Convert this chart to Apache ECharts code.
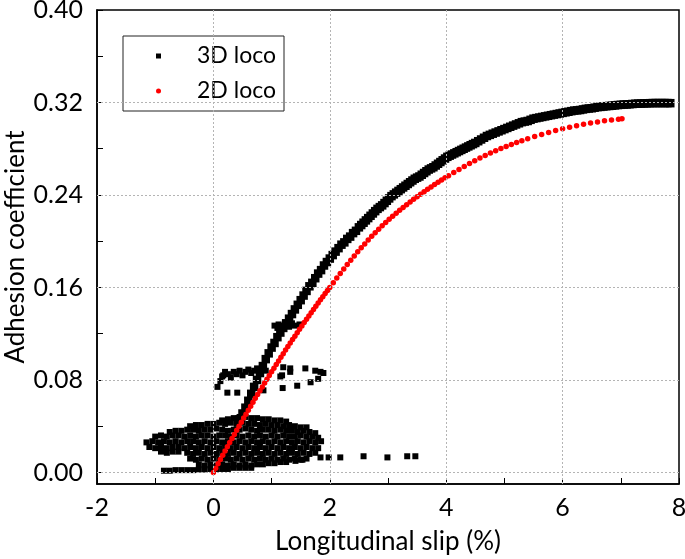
<!DOCTYPE html>
<html><head><meta charset="utf-8">
<script src="https://cdn.jsdelivr.net/npm/echarts@6/dist/echarts.min.js"></script>
<style>html,body{margin:0;padding:0;background:#fff}#c{width:685px;height:559px}</style>
</head><body><div id="c"></div>
<script>
// ---- axis ticks / labels ----
const xTicks = [-2, 0, 2, 4, 6, 8];
const yLabels = [0, 0.08, 0.16, 0.24, 0.32, 0.40];
const yTicks = [0, 0.04, 0.08, 0.12, 0.16, 0.20, 0.24, 0.28, 0.32, 0.36, 0.40];
const gridX = [0, 2, 4, 6];
const gridY = [0, 0.08, 0.16, 0.24, 0.32];

// ---- 3D loco: main adhesion curve ----
const curve3D = [
[0.45,0.046],[0.50,0.051],[0.55,0.056],[0.60,0.062],[0.65,0.068],[0.70,0.074],[0.75,0.080],[0.80,0.086],
[0.85,0.092],[0.90,0.098],[0.95,0.103],[1.00,0.108],[1.05,0.112],[1.10,0.117],[1.15,0.121],[1.20,0.125],
[1.25,0.129],[1.30,0.133],[1.35,0.137],[1.40,0.141],[1.45,0.145],[1.50,0.149],[1.55,0.153],[1.60,0.157],
[1.65,0.161],[1.70,0.164],[1.75,0.168],[1.80,0.172],[1.85,0.175],[1.90,0.179],[1.95,0.182],[2.00,0.185],
[2.05,0.188],[2.10,0.191],[2.15,0.194],[2.20,0.197],[2.25,0.199],[2.30,0.202],[2.35,0.204],[2.40,0.207],
[2.45,0.209],[2.50,0.212],[2.58,0.216],[2.66,0.220],[2.74,0.224],[2.82,0.228],[2.90,0.231],[2.98,0.235],
[3.06,0.239],[3.14,0.242],[3.22,0.245],[3.30,0.248],[3.38,0.251],[3.46,0.254],[3.54,0.256],[3.62,0.259],
[3.70,0.262],[3.78,0.264],[3.86,0.267],[3.94,0.270],[4.02,0.273],[4.10,0.275],[4.18,0.277],[4.26,0.279],
[4.34,0.281],[4.42,0.283],[4.50,0.285],[4.60,0.288],[4.70,0.291],[4.80,0.293],[4.90,0.295],[5.00,0.297],
[5.10,0.299],[5.20,0.301],[5.30,0.303],[5.40,0.304],[5.50,0.306],[5.60,0.307],[5.70,0.308],[5.80,0.309],
[5.90,0.310],[6.00,0.311],[6.10,0.312],[6.20,0.313],[6.30,0.3135],[6.40,0.3145],[6.50,0.315],[6.60,0.316],
[6.70,0.3165],[6.80,0.317],[6.90,0.3175],[7.00,0.318],[7.10,0.3183],[7.20,0.3187],[7.30,0.319],[7.40,0.3192],
[7.50,0.3194],[7.60,0.3195],[7.70,0.3195],[7.80,0.3195],[7.85,0.3194]
];
// further samples read along the same band (upper part, where it is densest)
const curve3Db = [
[2.54,0.214],[2.62,0.218],[2.70,0.222],[2.78,0.226],[2.86,0.2295],[2.94,0.233],[3.02,0.237],[3.10,0.2405],
[3.18,0.2435],[3.26,0.2465],[3.34,0.2495],[3.42,0.2525],[3.50,0.255],[3.58,0.2575],[3.66,0.2605],[3.74,0.263],
[3.82,0.2655],[3.90,0.2685],[3.98,0.2715],[4.06,0.274],[4.14,0.276],[4.22,0.278],[4.30,0.280],[4.38,0.282],
[4.46,0.284],[4.55,0.2865],[4.65,0.2895],[4.75,0.292],[4.85,0.294],[4.95,0.296],[5.05,0.298],[5.15,0.300],
[5.25,0.302],[5.35,0.3035],[5.45,0.305],[5.55,0.3065],[5.65,0.3075],[5.75,0.3085],[5.85,0.3095],[5.95,0.3105],
[6.05,0.3115],[6.15,0.3125],[6.25,0.3132],[6.35,0.314],[6.45,0.3148],[6.55,0.3155],[6.65,0.3162],[6.75,0.3168],
[6.85,0.3172],[6.95,0.3178],[7.05,0.3182],[7.15,0.3185],[7.25,0.3189],[7.35,0.3191],[7.45,0.3193],[7.55,0.3195],
[7.65,0.3195],[7.75,0.3195]
];

// ---- 3D loco: oscillation cloud near the origin ----
const cloud3D = [
[0.15,0.045],[0.25,0.046],[0.35,0.047],[0.45,0.048],[0.55,0.048],[0.65,0.047],[0.75,0.047],[0.85,0.046],[0.95,0.046],[1.05,0.045],[1.15,0.045],[1.25,0.044],
[-0.4,0.040],[-0.3,0.041],[-0.2,0.041],[-0.1,0.042],[0.0,0.042],[0.1,0.043],[0.2,0.042],[0.3,0.043],[0.4,0.042],[0.5,0.043],[0.6,0.042],[0.7,0.042],[0.8,0.041],[0.9,0.042],[1.0,0.041],[1.1,0.041],[1.2,0.040],[1.3,0.041],[1.4,0.040],[1.5,0.039],[1.6,0.039],
[-0.75,0.035],[-0.65,0.036],[-0.55,0.036],[-0.45,0.037],[-0.35,0.037],[-0.25,0.036],[-0.15,0.037],[-0.05,0.037],[0.05,0.038],[0.15,0.037],[0.25,0.036],[0.35,0.037],[0.45,0.037],[0.55,0.038],[0.65,0.037],[0.75,0.036],[0.85,0.037],[0.95,0.037],[1.05,0.036],[1.15,0.037],[1.25,0.036],[1.35,0.036],[1.45,0.035],[1.55,0.036],[1.65,0.035],[1.75,0.034],
[-1.0,0.031],[-0.9,0.032],[-0.8,0.031],[-0.7,0.032],[-0.6,0.032],[-0.5,0.031],[-0.4,0.032],[-0.3,0.031],[-0.2,0.032],[-0.1,0.032],[0.0,0.031],[0.1,0.032],[0.2,0.032],[0.3,0.031],[0.4,0.032],[0.5,0.031],[0.6,0.032],[0.7,0.031],[0.8,0.032],[0.9,0.031],[1.0,0.032],[1.1,0.031],[1.2,0.032],[1.3,0.031],[1.4,0.031],[1.5,0.032],[1.6,0.031],[1.7,0.031],[1.8,0.030],
[-1.15,0.026],[-1.05,0.027],[-0.95,0.026],[-0.85,0.027],[-0.75,0.026],[-0.65,0.027],[-0.55,0.026],[-0.45,0.027],[-0.35,0.027],[-0.25,0.026],[-0.15,0.027],[-0.05,0.026],[0.05,0.027],[0.15,0.026],[0.25,0.027],[0.35,0.026],[0.45,0.027],[0.55,0.026],[0.65,0.027],[0.75,0.026],[0.85,0.027],[0.95,0.026],[1.05,0.027],[1.15,0.026],[1.25,0.027],[1.35,0.026],[1.45,0.027],[1.55,0.026],[1.65,0.027],[1.75,0.026],[1.85,0.027],
[-1.1,0.022],[-1.0,0.021],[-0.9,0.022],[-0.8,0.021],[-0.7,0.022],[-0.6,0.022],[-0.5,0.021],[-0.4,0.022],[-0.3,0.021],[-0.2,0.022],[-0.1,0.021],[0.0,0.022],[0.1,0.021],[0.2,0.022],[0.3,0.021],[0.4,0.022],[0.5,0.021],[0.6,0.022],[0.7,0.021],[0.8,0.022],[0.9,0.021],[1.0,0.022],[1.1,0.021],[1.2,0.022],[1.3,0.021],[1.4,0.022],[1.5,0.021],[1.6,0.022],[1.7,0.021],[1.8,0.021],
[-0.9,0.018],[-0.8,0.017],[-0.7,0.018],[-0.6,0.018],[-0.45,0.017],[-0.35,0.016],[-0.25,0.017],[-0.15,0.016],[-0.05,0.017],[0.05,0.016],[0.15,0.017],[0.25,0.016],[0.35,0.017],[0.45,0.016],[0.55,0.017],[0.65,0.016],[0.75,0.017],[0.85,0.016],[0.95,0.017],[1.05,0.016],[1.15,0.017],[1.25,0.016],[1.35,0.017],[1.45,0.016],[1.55,0.017],[1.65,0.016],[1.75,0.017],
[-0.4,0.012],[-0.3,0.011],[-0.2,0.012],[-0.1,0.011],[0.0,0.012],[0.1,0.011],[0.2,0.012],[0.3,0.011],[0.4,0.012],[0.5,0.011],[0.6,0.012],[0.7,0.011],[0.8,0.012],[0.9,0.011],[1.0,0.012],[1.1,0.011],[1.2,0.012],[1.3,0.011],[1.4,0.012],[1.5,0.011],[1.6,0.012],
[-0.25,0.007],[-0.15,0.006],[-0.05,0.007],[0.05,0.006],[0.15,0.007],[0.25,0.006],[0.35,0.007],[0.45,0.006],[0.55,0.007],[0.65,0.006],[0.75,0.007],[0.85,0.007],[0.95,0.008],[1.05,0.008],[1.15,0.009],[1.25,0.009],
[0.05,0.003],[0.15,0.003],[0.25,0.003],[0.35,0.004],[0.45,0.004],[0.55,0.004],[0.65,0.004],
[-0.85,0.0015],[-0.75,0.0015],[-0.65,0.002],[-0.55,0.002],[-0.45,0.002],[-0.35,0.002],[-0.25,0.0025],[-0.15,0.0025],[-0.05,0.003]
];

// ---- 3D loco: trailing points and upper loops ----
const trail3D = [
[1.41,0.010],[1.53,0.011],[1.84,0.013],[1.98,0.013],[2.18,0.013],[2.58,0.014],[2.99,0.013],[3.33,0.014],[3.47,0.014],
[0.15,0.083],[0.2,0.087],[0.25,0.085],[0.3,0.082],[0.35,0.087],[0.4,0.085],[0.45,0.088],[0.5,0.084],[0.55,0.087],
[0.6,0.089],[0.65,0.086],[0.7,0.088],[0.75,0.090],[0.8,0.087],[0.85,0.089],[0.9,0.088],
[0.17,0.084],[0.07,0.074],[0.12,0.079],[0.24,0.069],[0.41,0.069],[0.86,0.071],[1.19,0.073],[1.44,0.075],[1.67,0.078],
[1.80,0.081],[1.89,0.086],[1.84,0.087],[1.75,0.088],[1.58,0.090],[1.32,0.090],[1.20,0.091],[1.15,0.083],[1.18,0.084],[1.32,0.087],
[1.05,0.127],[1.12,0.128],[1.20,0.127],[1.30,0.126],[1.40,0.127],[1.48,0.128],[1.10,0.125],[1.35,0.129]
];

// ---- 2D loco ----
const curve2D = [
[0.00,0.0000],[0.04,0.0037],[0.08,0.0075],[0.12,0.0112],[0.16,0.0149],[0.20,0.0185],[0.24,0.0222],[0.28,0.0258],
[0.32,0.0294],[0.36,0.0329],[0.40,0.0365],[0.44,0.0400],[0.48,0.0435],[0.52,0.0470],[0.56,0.0504],[0.60,0.0539],
[0.64,0.0573],[0.68,0.0607],[0.72,0.0641],[0.76,0.0674],[0.80,0.0707],[0.84,0.0740],[0.88,0.0773],[0.92,0.0806],
[0.96,0.0838],[1.00,0.0870],[1.04,0.0902],[1.08,0.0934],[1.12,0.0965],[1.16,0.0996],[1.20,0.1027],[1.24,0.1058],
[1.28,0.1089],[1.32,0.1119],[1.36,0.1149],[1.40,0.1179],[1.44,0.1208],[1.48,0.1238],[1.52,0.1267],[1.56,0.1296],
[1.60,0.1325],[1.64,0.1353],[1.68,0.1382],[1.72,0.1410],[1.76,0.1438],[1.80,0.1465],[1.84,0.1493],[1.88,0.1520],
[1.92,0.1547],[1.96,0.1574],[2.00,0.1600],[2.06,0.1641],[2.12,0.1681],[2.18,0.1721],[2.24,0.1760],[2.30,0.1798],
[2.36,0.1836],[2.42,0.1873],[2.48,0.1909],[2.54,0.1944],[2.60,0.1977],[2.66,0.2010],[2.72,0.2042],[2.78,0.2073],
[2.84,0.2103],[2.90,0.2133],[2.96,0.2161],[3.02,0.2189],[3.08,0.2216],[3.14,0.2242],[3.20,0.2267],[3.26,0.2292],
[3.32,0.2316],[3.38,0.2340],[3.44,0.2363],[3.50,0.2385],[3.56,0.2407],[3.62,0.2428],[3.68,0.2449],[3.74,0.2470],
[3.80,0.2490],[3.86,0.2510],[3.92,0.2529],[3.98,0.2548],[4.04,0.2566],[4.13,0.2594],[4.22,0.2621],[4.31,0.2647],
[4.40,0.2672],[4.49,0.2696],[4.58,0.2719],[4.67,0.2741],[4.76,0.2762],[4.85,0.2783],[4.94,0.2802],[5.03,0.2820],
[5.12,0.2837],[5.21,0.2854],[5.30,0.2870],[5.40,0.2887],[5.52,0.2906],[5.64,0.2924],[5.76,0.2941],[5.88,0.2957],
[6.00,0.2972],[6.12,0.2986],[6.24,0.2999],[6.36,0.3011],[6.48,0.3022],[6.60,0.3032],[6.72,0.3041],[6.84,0.3049],
[6.96,0.3056],[7.02,0.3059]
];

const FONT = 'Lato';
const chart = echarts.init(document.getElementById('c'), null, {renderer: 'canvas'});
chart.setOption({
  animation: false,
  backgroundColor: '#fff',
  textStyle: {fontFamily: FONT, color: '#000'},
  grid: {left: 97, right: 6, top: 10, bottom: 75, outerBoundsMode: 'none', containLabel: false,
    show: true, borderColor: '#000', borderWidth: 1.5, backgroundColor: 'transparent'},
  legend: {
    data: ['3D loco', '2D loco'],
    orient: 'vertical', left: 123, top: 36,
    backgroundColor: '#fff', borderColor: '#222', borderWidth: 1,
    padding: [8, 8, 8, 33],
    itemWidth: 5, itemHeight: 5, itemGap: 11,
    textStyle: {fontFamily: FONT, fontSize: 23, color: '#000', lineHeight: 24, padding: [0, 0, 0, 31]}
  },
  xAxis: {
    type: 'value', min: -2, max: 8, interval: 2,
    name: 'Longitudinal slip (%)', nameLocation: 'middle', nameGap: 45, nameMoveOverlap: false,
    nameTextStyle: {fontFamily: FONT, fontSize: 26, color: '#000'},
    axisLine: {show: true, onZero: false, lineStyle: {color: '#000', width: 1.5}},
    axisTick: {show: true, inside: true, length: 6, lineStyle: {color: '#000', width: 1}},
    minorTick: {show: true, splitNumber: 2, length: 6, lineStyle: {color: '#000', width: 1}},
    axisLabel: {fontFamily: FONT, fontSize: 25, color: '#000', margin: 11,
      customValues: xTicks},
    splitLine: {show: false}
  },
  yAxis: {
    type: 'value', min: -0.01, max: 0.40,
    name: 'Adhesion coefficient', nameLocation: 'middle', nameGap: 68, nameMoveOverlap: false,
    nameTextStyle: {fontFamily: FONT, fontSize: 26, color: '#000'},
    axisLine: {show: true, onZero: false, lineStyle: {color: '#000', width: 1.5}},
    axisTick: {show: true, inside: true, length: 6, lineStyle: {color: '#000', width: 1}, customValues: yTicks},
    axisLabel: {fontFamily: FONT, fontSize: 25, color: '#000', margin: 14,
      customValues: yLabels, formatter: v => v.toFixed(2)},
    splitLine: {show: false}
  },
  series: [
    {
      type: 'scatter', data: [], silent: true, z: 0,
      markLine: {
        silent: true, symbol: 'none', animation: false,
        label: {show: false},
        lineStyle: {color: '#b4b4b4', type: [2, 2], width: 1},
        data: gridY.map(v => ({yAxis: v})).concat(gridX.map(v => ({xAxis: v})))
      }
    },
    {name: '3D loco', type: 'scatter', symbol: 'rect', symbolSize: 8.5, z: 3,
      itemStyle: {color: '#000', opacity: 1}, data: curve3D.concat(curve3Db)},
    {name: '3D loco', type: 'scatter', symbol: 'rect', symbolSize: 6, z: 3,
      itemStyle: {color: '#000', opacity: 1}, data: cloud3D.concat(trail3D)},
    {name: '2D loco', type: 'scatter', symbol: 'circle', symbolSize: 5.5, z: 4,
      itemStyle: {color: '#ff0000', opacity: 1}, data: curve2D}
  ]
});
</script>
</body></html>
